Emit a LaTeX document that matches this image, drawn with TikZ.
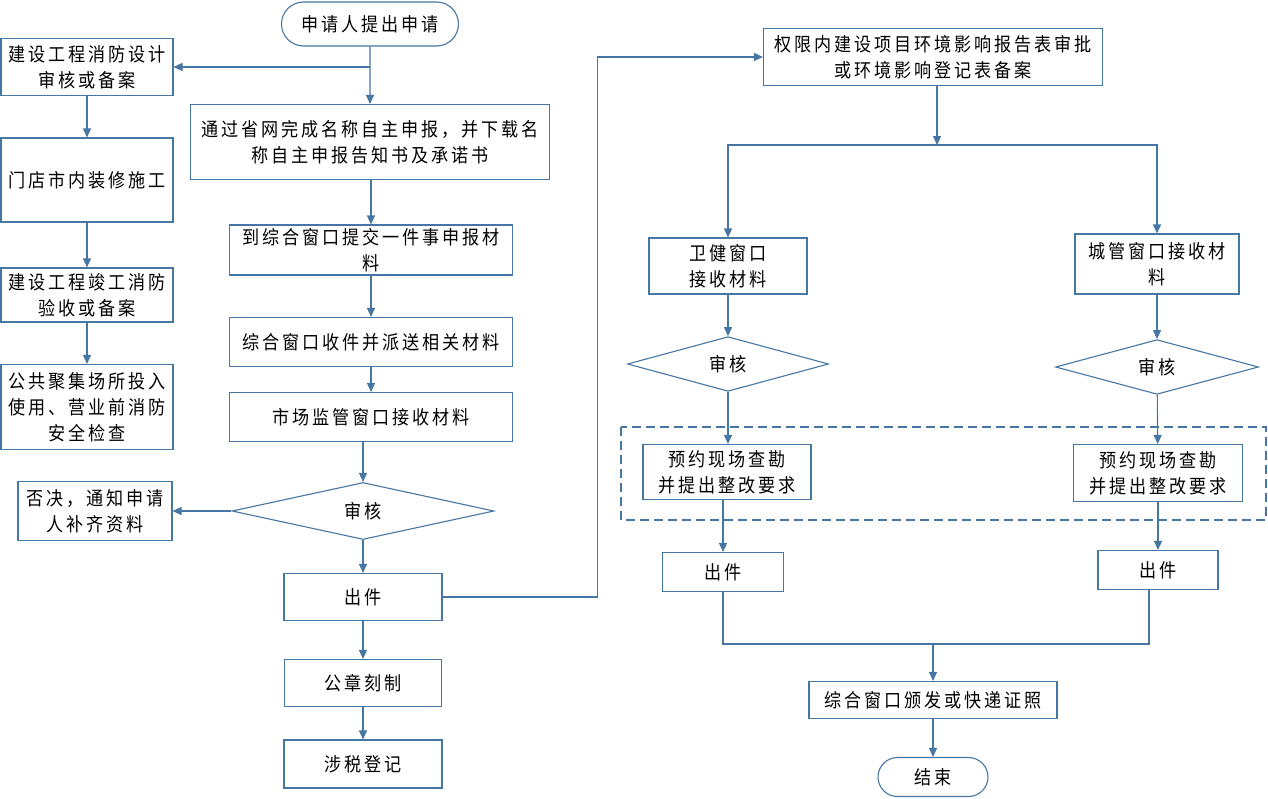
\documentclass[tikz,border=0pt]{standalone}
\usepackage{fontspec}
\newfontfamily\cjk[LetterSpace=15,FakeStretch=0.9]{Noto Sans CJK SC}
\usetikzlibrary{arrows.meta,shapes.geometric,shapes.misc}
\definecolor{lineblue}{RGB}{70,118,163}
\tikzset{
  every node/.style={font=\cjk\fontsize{19}{26}\selectfont, align=center, inner sep=0pt},
  box/.style={draw=lineblue, line width=1.1pt, fill=white, rectangle},
  term/.style={draw=lineblue, line width=1.1pt, fill=white, rounded rectangle},
  check/.style={draw=lineblue, line width=1.1pt, fill=white, diamond},
  arr/.style={draw=lineblue, line width=1.1pt, -{Triangle[length=9pt,width=8pt]}},
  link/.style={draw=lineblue, line width=1.1pt},
  frame/.style={draw=lineblue, line width=1.1pt, dash pattern=on 9pt off 5pt}
}
\begin{document}
\begin{tikzpicture}[x=1pt,y=-1pt]
    \useasboundingbox (0,0) rectangle (1268,798);
    % left column
    \node[term, minimum width=177pt, minimum height=44pt] (start) at (370,24) {申请人提出申请};
    \node[box, minimum width=172pt, minimum height=57pt] (fire1) at (87,67) {建设工程消防设计\\审核或备案};
    \node[box, minimum width=172pt, minimum height=84pt] (shop) at (87,180) {门店市内装修施工};
    \node[box, minimum width=172pt, minimum height=54pt] (fire2) at (87,295) {建设工程竣工消防\\验收或备案};
    \node[box, minimum width=172pt, minimum height=85pt] (pub) at (87,407) {公共聚集场所投入\\使用、营业前消防\\安全检查};
    \node[box, minimum width=154pt, minimum height=59pt] (reject) at (95,511) {否决，通知申请\\人补齐资料};
    % middle column
    \node[box, minimum width=359pt, minimum height=75pt] (online) at (370,142) {通过省网完成名称自主申报，并下载名\\称自主申报告知书及承诺书};
    \node[box, minimum width=283pt, minimum height=50pt] (submit) at (371,250) {到综合窗口提交一件事申报材\\料};
    \node[box, minimum width=283pt, minimum height=49pt] (dispatch) at (371,342) {综合窗口收件并派送相关材料};
    \node[box, minimum width=283pt, minimum height=49pt] (market) at (371,417) {市场监管窗口接收材料};
    \node[check, minimum width=262pt, minimum height=57pt] (audit) at (363,511) {审核};
    \node[box, minimum width=158pt, minimum height=47pt] (issue) at (363,597) {出件};
    \node[box, minimum width=157pt, minimum height=47pt] (seal) at (363,683) {公章刻制};
    \node[box, minimum width=158pt, minimum height=48pt] (tax) at (363,764) {涉税登记};
    % right part
    \draw[frame] (621,427) rectangle (1266,520);
    \node[box, minimum width=339pt, minimum height=57pt] (env) at (933,57) {权限内建设项目环境影响报告表审批\\或环境影响登记表备案};
    \coordinate (split) at (937,145);
    \node[box, minimum width=158pt, minimum height=56pt] (health) at (728,266) {卫健窗口\\接收材料};
    \node[box, minimum width=164pt, minimum height=60pt] (city) at (1157,264) {城管窗口接收材\\料};
    \node[check, minimum width=201pt, minimum height=42pt] (auditL) at (728,364) {审核};
    \node[check, minimum width=203pt, minimum height=38pt] (auditR) at (1157,367) {审核};
    \node[box, minimum width=168pt, minimum height=55pt] (visitL) at (727,472) {预约现场查勘\\并提出整改要求};
    \node[box, minimum width=169pt, minimum height=57pt] (visitR) at (1158,473) {预约现场查勘\\并提出整改要求};
    \node[box, minimum width=121pt, minimum height=39pt] (issueL) at (723,572) {出件};
    \node[box, minimum width=120pt, minimum height=39pt] (issueR) at (1158,570) {出件};
    \coordinate (merge) at (933,644);
    \node[box, minimum width=248pt, minimum height=37pt] (deliver) at (933,700) {综合窗口颁发或快递证照};
    \node[term, minimum width=110pt, minimum height=39pt] (finish) at (933,777) {结束};
    % connectors
    \draw[arr] (start) -- (online);
    \draw[arr] (start.south |- fire1.east) -- (fire1.east);
    \draw[arr] (fire1) -- (shop);
    \draw[arr] (shop) -- (fire2);
    \draw[arr] (fire2) -- (pub);
    \draw[arr] (online.south -| submit) -- (submit);
    \draw[arr] (submit) -- (dispatch);
    \draw[arr] (dispatch) -- (market);
    \draw[arr] (market.south -| audit) -- (audit.north);
    \draw[arr] (audit.west) -- (reject.east);
    \draw[arr] (audit.south) -- (issue.north);
    \draw[arr] (issue) -- (seal);
    \draw[arr] (seal) -- (tax);
    \draw[arr] (issue.east) -- ++(155,0) |- (env.west);
    \draw[arr] (env.south -| split) -- (split);
    \draw[arr] (split) -| (health.north);
    \draw[arr] (split) -| (city.north);
    \draw[arr] (health) -- (auditL);
    \draw[arr] (city) -- (auditR);
    \draw[arr] (auditL) -- (visitL.north -| auditL);
    \draw[arr] (auditR) -- (visitR);
    \draw[arr] (visitL.south -| issueL) -- (issueL);
    \draw[arr] (visitR) -- (issueR);
    \draw[link] (issueL.south) |- (merge) -| ([xshift=-9pt]issueR.south);
    \draw[arr] (merge) -- (deliver);
    \draw[arr] (deliver) -- (finish);
\end{tikzpicture}
\end{document}
